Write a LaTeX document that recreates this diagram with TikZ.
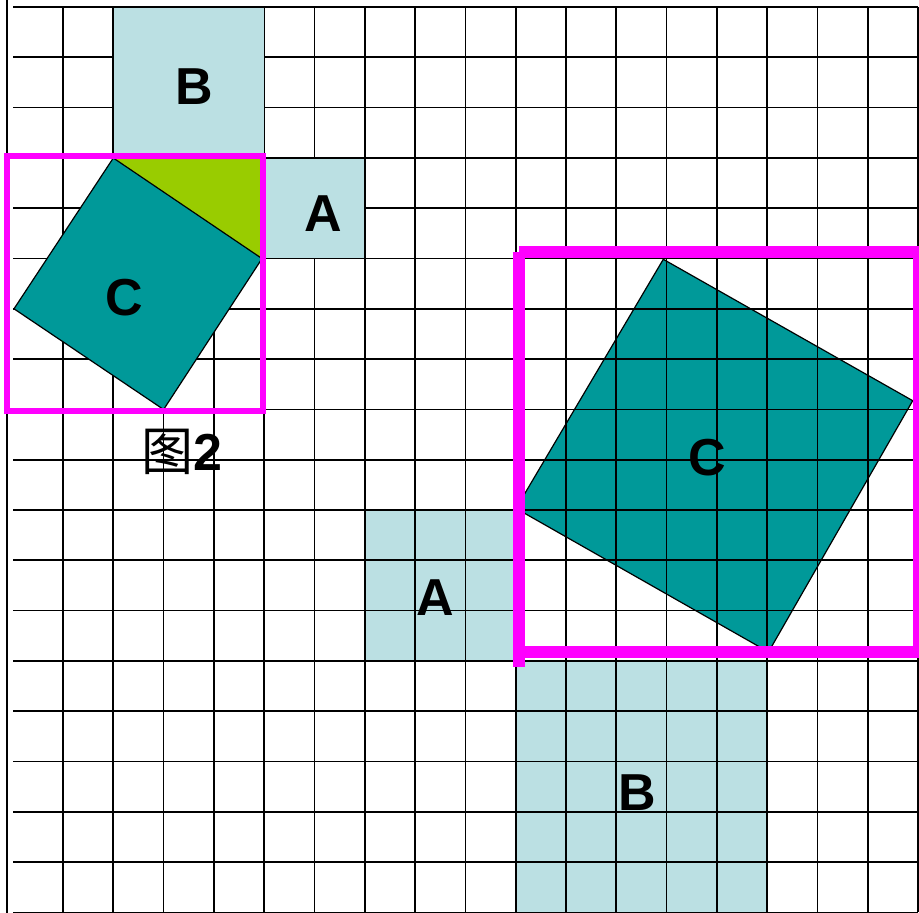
\documentclass[tikz,border=0pt]{standalone}
\usepackage{fontspec}
\setmainfont{Liberation Sans}
\newfontfamily\cjk{Noto Sans CJK SC}
\definecolor{lblue}{HTML}{BBE0E3}
\definecolor{cteal}{HTML}{009999}
\definecolor{cgreen}{HTML}{99CC00}
\definecolor{cpink}{HTML}{FF00FF}
\begin{document}
\begin{tikzpicture}[x=0.5pt,y=-0.5pt,
  gridline/.style={line width=0.85pt, black},
  outline/.style={line width=0.6pt, black},
  pinkthin/.style={draw=cpink, line width=3pt},
  pinkthick/.style={draw=cpink, line width=6pt},
  lbl/.style={inner sep=0pt, font=\fontsize{26}{30}\selectfont\bfseries}]
\useasboundingbox (0,0) rectangle (919,913);
\fill[white] (0,0) rectangle (919,913);
% large light-blue squares (grid shows through)
\fill[lblue] (365,510) rectangle (516,661);
\fill[lblue] (516,661) rectangle (767.5,913);
% grid
\foreach \i in {1,...,18} \draw[gridline] ({12.7+50.3*\i},7) -- ({12.7+50.3*\i},912.4);
\foreach \j in {0,...,18} \draw[gridline] (13,{7+50.3*\j}) -- (918.1,{7+50.3*\j});
\draw[gridline] (7,0) -- (7,913);
% large tilted square C
\coordinate (T) at (663.3,259.3);
\coordinate (R) at (912.7,400.7);
\coordinate (Bt) at (768.5,652);
\coordinate (L) at (516,508.4);
\fill[cteal] (T) -- (R) -- (Bt) -- (L) -- cycle;
\begin{scope}
  \clip (T) -- (R) -- (Bt) -- (L) -- cycle;
  \foreach \i in {1,...,18} \draw[gridline] ({12.7+50.3*\i},7) -- ({12.7+50.3*\i},912.4);
  \foreach \j in {0,...,18} \draw[gridline] (13,{7+50.3*\j}) -- (918.1,{7+50.3*\j});
\end{scope}
\draw[outline] (T) -- (R) -- (Bt) -- (L) -- cycle;
% figure 2 (top left)
\draw[outline, fill=lblue] (113.3,7) rectangle (264.2,158);
\draw[outline, fill=lblue] (264.2,158) rectangle (365,258.6);
\coordinate (t1) at (113.3,158);
\coordinate (t2) at (264.2,158);
\coordinate (t3) at (262,258.6);
\coordinate (t4) at (163.6,409.5);
\coordinate (t5) at (14,308.8);
\fill[cgreen] (t1) -- (t2) -- (t3) -- cycle;
\draw[outline, fill=cteal] (t1) -- (t3) -- (t4) -- (t5) -- cycle;
% magenta frames
\draw[pinkthin] (7,156) rectangle (263,411);
\draw[pinkthick] (519,252) -- (925,252);
\draw[pinkthick] (519,252) -- (519,667);
\draw[pinkthick] (525,651.5) -- (925,651.5);
\draw[pinkthick] (919,252) -- (919,651.5);
% labels
\node[lbl] (lB1) at (194.7,86.7) {B};
\node[lbl] (lA1) at (322.8,213.8) {A};
\node[lbl] (lC1) at (124,298) {C};
\node[lbl] (fig2) at (181.5,452) {{\cjk\mdseries 图}2};
\node[lbl] (lA2) at (435.3,598) {A};
\node[lbl] (lB2) at (637.3,793) {B};
\node[lbl] (lC2) at (707.3,457.5) {C};
\end{tikzpicture}
\end{document}
